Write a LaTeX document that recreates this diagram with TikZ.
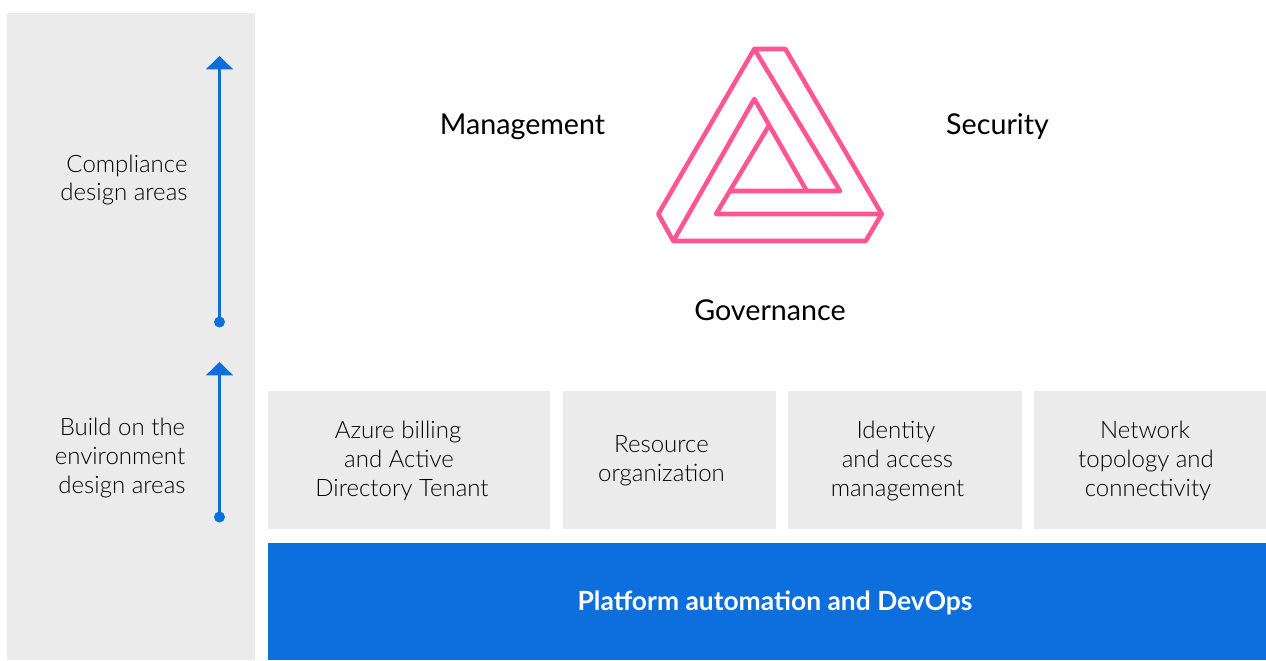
\documentclass[tikz,border=0pt]{standalone}
\usepackage{fontspec}
\setmainfont{Lato}
\newfontfamily\lightfont{Lato Light}
\usetikzlibrary{arrows.meta}
\definecolor{panelgray}{HTML}{EBEBEB}
\definecolor{azblue}{HTML}{0D6EDD}
\definecolor{trpink}{HTML}{FF5592}
% shift one centred line sideways by #1 reference pixels
\newcommand{\linenudge}[1]{\hspace*{\dimexpr #1pt*3/2\relax}}
\tikzset{
  panel/.style={fill=panelgray,draw=none,inner sep=0pt,outer sep=0pt},
  lbl/.style={align=center,inner sep=0pt,font=\lightfont\fontsize{18}{21.6}\selectfont,text=black},
  area/.style={inner sep=0pt,font=\fontsize{21.5}{25}\selectfont,text=black},
  dotnode/.style={circle,fill=azblue,draw=none,minimum size=8.25pt,inner sep=0pt},
  rise/.style={draw=azblue,line width=2.25pt,-{Triangle[width=20pt,length=10pt,fill=azblue]}},
  tri/.style={draw=trpink,line width=3.4pt,line join=round,line cap=round}
}
\begin{document}
\begin{tikzpicture}[x=0.75pt,y=-0.75pt]
\useasboundingbox (0,0) rectangle (1266,660);
\fill[panel] (7,13) rectangle (255,660);
\fill[panel] (268,391) rectangle (550,529);
\fill[panel] (563,391) rectangle (776,529);
\fill[panel] (788,391) rectangle (1022,529);
\fill[panel] (1034,391) rectangle (1266,529);
\fill[azblue] (268,543) rectangle (1266,660);
\node[lbl] (compl) at (124,180) {\linenudge{3}Compliance\\design areas};
\node[lbl] (build) at (121,458) {\linenudge{1.5}Build on the\\\linenudge{-1}environment\\\linenudge{1}design areas};
\node[lbl] (azure) at (401,461) {\linenudge{-3}Azure billing\\\linenudge{-2}and Active\\\linenudge{1}Directory Tenant};
\node[lbl] (res) at (661.5,461) {Resource\\organization};
\node[lbl] (ident) at (897.5,461) {\linenudge{-1.5}Identity\\and access\\management};
\node[lbl] (net) at (1146,461) {\linenudge{-1}Network\\topology and\\\linenudge{2}connectivity};
\node[inner sep=0pt,text=white,font=\bfseries\fontsize{19.8}{24}\selectfont] (plat) at (775,603) {Platform automation and DevOps};
\node[area] (mgmt) at (522.5,127) {Management};
\node[area] (sec) at (997.5,127) {Security};
\node[area] (gov) at (770,310) {Governance};
\node[dotnode] (d1) at (219.5,322) {};
\node[dotnode] (d2) at (219.5,517) {};
\coordinate (t1) at (219.5,56);
\coordinate (t2) at (219.5,362);
\draw[rise] (d1.center) -- (t1);
\draw[rise] (d2.center) -- (t2);
\draw[tri] (754.3,49) -- (785.3,49) -- (881.7,214) -- (865.7,241) -- (673.3,241) -- (658.3,214) -- cycle;
\draw[tri] (673.3,241) -- (754.3,99) -- (806.7,191);
\draw[tri] (754.3,49) -- (840,191) -- (730.7,191);
\draw[tri] (768.3,126.7) -- (716,214) -- (881.7,214);
\end{tikzpicture}
\end{document}
